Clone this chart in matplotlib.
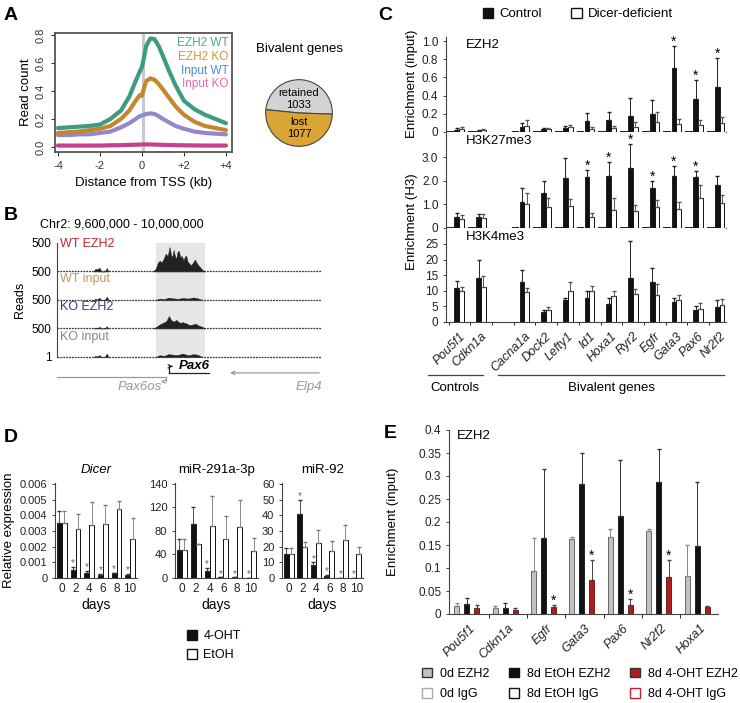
import numpy as np
import matplotlib.pyplot as plt
from matplotlib.patches import Patch
from matplotlib.lines import Line2D

plt.rcParams['font.family'] = ['Liberation Sans', 'DejaVu Sans']

# ---------------- data ----------------
# A: profile around TSS
tss_kb = [-4, -3.5, -3, -2.5, -2, -1.5, -1, -0.6, -0.3, -0.1, 0.0, 0.1, 0.2, 0.4, 0.6, 0.8,
          1.0, 1.3, 1.6, 2.0, 2.5, 3.0, 3.5, 4.0]
ezh2_wt = [0.135, 0.14, 0.145, 0.15, 0.16, 0.2, 0.26, 0.36, 0.47, 0.54, 0.57, 0.64, 0.72, 0.775,
           0.77, 0.72, 0.65, 0.54, 0.44, 0.33, 0.27, 0.23, 0.2, 0.17]
ezh2_ko = [0.10, 0.105, 0.11, 0.12, 0.13, 0.15, 0.2, 0.26, 0.33, 0.37, 0.365, 0.42, 0.47, 0.49,
           0.48, 0.45, 0.41, 0.35, 0.29, 0.23, 0.18, 0.15, 0.135, 0.12]
input_wt = [0.085, 0.085, 0.09, 0.09, 0.10, 0.11, 0.14, 0.17, 0.2, 0.22, 0.225, 0.23, 0.235, 0.24,
            0.235, 0.22, 0.2, 0.175, 0.15, 0.13, 0.11, 0.10, 0.095, 0.09]
input_ko = [0.01, 0.01, 0.01, 0.01, 0.01, 0.012, 0.013, 0.015, 0.016, 0.017, 0.018, 0.018, 0.018,
            0.018, 0.017, 0.016, 0.015, 0.014, 0.013, 0.012, 0.011, 0.01, 0.01, 0.01]
pie_labels = ['retained', 'lost']
pie_counts = [1033, 1077]

# B: genome tracks (positions in Mb, heights as fraction of 500 reads)
wt_ezh2_pos = [9.745, 9.749, 9.752, 9.755, 9.758, 9.761, 9.764, 9.767, 9.770, 9.772, 9.774, 9.776,
               9.778, 9.780, 9.782, 9.784, 9.786, 9.788, 9.791, 9.793, 9.795, 9.797, 9.799, 9.802,
               9.805, 9.808, 9.811, 9.814, 9.817, 9.820, 9.824]
wt_ezh2_h = [0.0, 0.1, 0.3, 0.38, 0.32, 0.45, 0.62, 0.55, 0.86, 0.6, 0.5, 0.76, 0.55, 0.45, 0.7,
             0.72, 0.5, 0.55, 0.4, 0.52, 0.56, 0.35, 0.3, 0.22, 0.3, 0.42, 0.3, 0.2, 0.12, 0.05, 0.0]
ko_ezh2_pos = [9.745, 9.750, 9.755, 9.760, 9.765, 9.769, 9.772, 9.776, 9.780, 9.785, 9.790, 9.795,
               9.800, 9.805, 9.809, 9.814, 9.819, 9.824]
ko_ezh2_h = [0.0, 0.06, 0.14, 0.2, 0.26, 0.44, 0.3, 0.24, 0.3, 0.2, 0.22, 0.18, 0.12, 0.14, 0.17,
             0.1, 0.06, 0.0]
small_pos = [9.655, 9.658, 9.661, 9.664, 9.667, 9.672, 9.675, 9.678]
wt_ezh2_small = [0.0, 0.1, 0.08, 0.14, 0.0, 0.0, 0.12, 0.0]
wt_input_small = [0.0, 0.04, 0.02, 0.08, 0.0, 0.0, 0.12, 0.0]
ko_ezh2_small = [0.0, 0.03, 0.02, 0.06, 0.0, 0.0, 0.08, 0.0]
ko_input_small = [0.0, 0.04, 0.02, 0.07, 0.0, 0.0, 0.12, 0.0]
input_pos = [9.748, 9.755, 9.762, 9.768, 9.775, 9.782, 9.790, 9.798, 9.806, 9.812, 9.820]
wt_input_h = [0.0, 0.05, 0.03, 0.08, 0.06, 0.04, 0.07, 0.05, 0.09, 0.06, 0.0]
ko_input_h = [0.0, 0.06, 0.04, 0.1, 0.08, 0.07, 0.12, 0.06, 0.1, 0.08, 0.0]
shade_mb = [9.749, 9.823]
pax6_mb = [9.769, 9.829]
pax6os_mb = [9.600, 9.765]
elp4_mb = [9.857, 10.0]

# C: ChIP in control vs Dicer-deficient
genes_c = ['Pou5f1', 'Cdkn1a', 'Cacna1a', 'Dock2', 'Lefty1', 'Id1', 'Hoxa1', 'Ryr2', 'Egfr',
           'Gata3', 'Pax6', 'Nr2f2']
slot_c = [0, 1, 3, 4, 5, 6, 7, 8, 9, 10, 11, 12]
ezh2_ctrl = [0.02, 0.015, 0.06, 0.03, 0.045, 0.12, 0.13, 0.18, 0.2, 0.70, 0.36, 0.49]
ezh2_ctrl_err = [0.02, 0.005, 0.04, 0.015, 0.02, 0.09, 0.095, 0.19, 0.15, 0.25, 0.21, 0.32]
ezh2_dcr = [0.035, 0.02, 0.065, 0.03, 0.05, 0.035, 0.04, 0.055, 0.11, 0.09, 0.08, 0.10]
ezh2_dcr_err = [0.025, 0.01, 0.065, 0.015, 0.025, 0.025, 0.03, 0.05, 0.115, 0.05, 0.055, 0.07]
ezh2_sig = [0, 0, 0, 0, 0, 0, 0, 0, 0, 1, 1, 1]
k27_ctrl = [0.45, 0.45, 1.1, 1.5, 2.12, 2.15, 2.22, 2.55, 1.7, 2.22, 2.17, 1.8]
k27_ctrl_err = [0.2, 0.15, 0.6, 0.48, 0.85, 0.3, 0.58, 1.0, 0.3, 0.4, 0.25, 0.4]
k27_dcr = [0.38, 0.42, 1.0, 0.88, 0.92, 0.45, 0.75, 0.72, 0.9, 0.82, 1.28, 1.05]
k27_dcr_err = [0.18, 0.18, 0.5, 0.4, 0.3, 0.2, 0.5, 0.25, 0.3, 0.3, 0.52, 0.35]
k27_sig = [0, 0, 0, 0, 0, 1, 1, 1, 1, 1, 1, 0]
k4_ctrl = [11, 14, 12.7, 3.2, 7.1, 7.8, 5.7, 14, 12.8, 6.4, 3.8, 4.8]
k4_ctrl_err = [2, 5.7, 4, 0.7, 0.5, 2, 2.1, 12, 4.6, 1.3, 1.3, 2.2]
k4_dcr = [10, 11.3, 9.5, 3.7, 9.9, 9.8, 8.2, 9.1, 8.6, 7.1, 4.2, 5.6]
k4_dcr_err = [1.2, 3.5, 1.5, 1.0, 3, 1.8, 1.6, 1.6, 3.5, 1.4, 1.9, 1.9]
igg_ezh2 = [0.006] * 12
igg_k27 = [0.04] * 12

# D: time course
days = ['0', '2', '4', '6', '8', '10']
dicer_oht = [0.0035, 0.0005, 0.00035, 0.0002, 0.0003, 0.0002]
dicer_oht_err = [0.0008, 0.0002, 0.0001, 0.00005, 0.00005, 0.00005]
dicer_etoh = [0.0035, 0.0031, 0.00335, 0.00345, 0.0044, 0.0025]
dicer_etoh_err = [0.0008, 0.001, 0.0015, 0.0012, 0.0005, 0.0013]
dicer_sig = [0, 1, 1, 1, 1, 1]
mir291_oht = [47, 92, 12, 1, 1, 0.5]
mir291_oht_err = [20, 28, 5, 0, 0, 0]
mir291_etoh = [48, 57, 89, 66, 87, 46]
mir291_etoh_err = [19, 0, 50, 40, 45, 22]
mir291_sig = [0, 0, 1, 1, 1, 1]
mir92_oht = [15, 41, 8, 1.3, 0.3, 0.3]
mir92_oht_err = [4, 9, 2, 0.5, 0, 0]
mir92_etoh = [15, 20, 22.5, 17.5, 24.5, 15]
mir92_etoh_err = [4, 3, 8, 6, 9, 4.5]
mir92_sig = [0, 1, 1, 1, 1, 1]

# E: EZH2 ChIP after 8 days
genes_e = ['Pou5f1', 'Cdkn1a', 'Egfr', 'Gata3', 'Pax6', 'Nr2f2', 'Hoxa1']
d0_ezh2 = [0.018, 0.013, 0.093, 0.164, 0.168, 0.181, 0.082]
d0_ezh2_err = [0.005, 0.005, 0.072, 0.004, 0.016, 0.003, 0.068]
etoh_ezh2 = [0.021, 0.013, 0.166, 0.282, 0.212, 0.287, 0.148]
etoh_ezh2_err = [0.014, 0.011, 0.15, 0.069, 0.122, 0.071, 0.138]
oht_ezh2 = [0.014, 0.008, 0.016, 0.074, 0.019, 0.080, 0.016]
oht_ezh2_err = [0.005, 0.006, 0.004, 0.044, 0.013, 0.038, 0.001]
d0_igg = [0.001, 0.001, 0.001, 0.001, 0.001, 0.001, 0.001]
etoh_igg = [0.001, 0.001, 0.001, 0.001, 0.001, 0.001, 0.001]
oht_igg = [0.001, 0.001, 0.001, 0.001, 0.001, 0.001, 0.001]
oht_sig = [0, 0, 1, 1, 1, 1, 0]

# ---------------- figure ----------------
W, H = 740, 703
fig = plt.figure(figsize=(W / 100, H / 100), dpi=100)


def px_ax(x0, y0, x1, y1):
    return fig.add_axes([x0 / W, 1 - y1 / H, (x1 - x0) / W, (y1 - y0) / H])


def ftxt(x, y, s, **kw):
    return fig.text(x / W, 1 - y / H, s, **kw)


def fline(x0, x1, y, **kw):
    fig.add_artist(Line2D([x0 / W, x1 / W], [1 - y / H, 1 - y / H], **kw))


def clean(ax):
    ax.spines['top'].set_visible(False)
    ax.spines['right'].set_visible(False)
    for s in ('left', 'bottom'):
        ax.spines[s].set_linewidth(0.8)
        ax.spines[s].set_color('#444')
    ax.tick_params(labelsize=8, length=2, width=0.6, colors='#222')


for lab, x, y in [('A', 4, 16), ('B', 4, 216), ('C', 378, 16), ('D', 4, 438), ('E', 384, 434)]:
    ftxt(x, y, lab, fontsize=14, fontweight='bold', va='center')

# ---- A ----
axA = px_ax(55, 33, 232, 152)
axA.axvline(0.05, color='#c8c8d4', lw=2.2, zorder=0)
for vals, col in [(input_ko, '#c8408b'), (input_wt, '#9189cb'), (ezh2_ko, '#c5862f'),
                  (ezh2_wt, '#3d9c7f')]:
    axA.plot(tss_kb, vals, color=col, lw=3, solid_capstyle='round')
axA.set_xlim(-4.14, 4.29)
axA.set_ylim(-0.036, 0.814)
axA.set_xticks([-4, -2, 0, 2, 4])
axA.set_xticklabels(['-4', '-2', '0', '+2', '+4'])
axA.set_yticks([0, 0.2, 0.4, 0.6, 0.8])
axA.set_yticklabels(['0.0', '0.2', '0.4', '0.6', '0.8'], rotation=90, va='center')
for s in axA.spines.values():
    s.set_color('#555')
    s.set_linewidth(1.3)
axA.tick_params(labelsize=8, length=3, colors='#333')
axA.set_ylabel('Read count', fontsize=9.5, labelpad=3)
axA.set_xlabel('Distance from TSS (kb)', fontsize=9.5, labelpad=4)
for txt, col, yv in [('EZH2 WT', '#4aa88a', 0.743), ('EZH2 KO', '#d6913a', 0.643),
                     ('Input WT', '#3f8fe0', 0.543), ('Input KO', '#e069a8', 0.45)]:
    axA.text(4.13, yv, txt, color=col, fontsize=8.5, ha='right', va='center')

ftxt(299, 49, 'Bivalent genes', fontsize=9.5, ha='center', va='center')
axP = px_ax(265, 79, 333, 147)
axP.pie(pie_counts, colors=['#d3d3d3', '#dba535'], startangle=-2, radius=1,
        wedgeprops=dict(edgecolor='#444', linewidth=0.8))
axP.set_xlim(-1.02, 1.02)
axP.set_ylim(-1.02, 1.02)
axP.text(0, 0.42, f'{pie_labels[0]}\n{pie_counts[0]}', ha='center', va='center', fontsize=8,
         linespacing=1.25)
axP.text(0, -0.45, f'{pie_labels[1]}\n{pie_counts[1]}', ha='center', va='center', fontsize=8,
         linespacing=1.25)

# ---- B ----
axB = px_ax(57, 243, 322, 394)
axB.set_xlim(9.6, 10.0)
axB.set_ylim(-1.3, 4.0)
axB.fill_between(shade_mb, 0, 4, color='#e6e6e6', lw=0, zorder=0)
tracks = [(3, [(wt_ezh2_pos, wt_ezh2_h), (small_pos, wt_ezh2_small)]),
          (2, [(input_pos, wt_input_h), (small_pos, wt_input_small)]),
          (1, [(ko_ezh2_pos, ko_ezh2_h), (small_pos, ko_ezh2_small)]),
          (0, [(input_pos, ko_input_h), (small_pos, ko_input_small)])]
for base, sigs in tracks:
    axB.plot([9.6, 10.0], [base, base], color='#333', lw=0.9, ls=(0, (1.5, 0.8)))
    for p, h in sigs:
        axB.fill_between(p, base, base + np.array(h), color='#222', lw=0.3)
for txt, col, yv in [('WT EZH2', '#c1272d', 3.95), ('WT input', '#c09a5a', 2.75),
                     ('KO EZH2', '#3a3590', 1.75), ('KO input', '#888888', 0.7)]:
    axB.text(9.605, yv, txt, color=col, fontsize=9, va='center')
axB.set_yticks([0, 1, 2, 3, 4])
axB.set_yticklabels(['1', '500', '500', '500', '500'])
axB.set_xticks([])
for s in ('top', 'right', 'bottom'):
    axB.spines[s].set_visible(False)
axB.spines['left'].set_bounds(0, 4)
axB.spines['left'].set_color('#444')
axB.tick_params(axis='y', labelsize=8.5, length=0, pad=4)
ftxt(40, 225, 'Chr2: 9,600,000 - 10,000,000', fontsize=9, va='center')
ftxt(20, 300, 'Reads', fontsize=9, rotation=90, ha='center', va='center')
# gene models
axB.plot([pax6_mb[0], pax6_mb[1]], [-0.56, -0.56], color='#222', lw=0.9, clip_on=False)
axB.plot([pax6_mb[0], pax6_mb[0]], [-0.56, -0.33], color='#222', lw=0.9, clip_on=False)
axB.annotate('', xy=(pax6_mb[0] + 0.010, -0.33), xytext=(pax6_mb[0], -0.33),
             arrowprops=dict(arrowstyle='->', color='#222', lw=0.9, mutation_scale=6),
             annotation_clip=False)
axB.text(pax6_mb[0] + 0.015, -0.3, 'Pax6', fontsize=9.5, fontstyle='italic', fontweight='bold',
         va='center')
axB.plot([pax6os_mb[0], pax6os_mb[1]], [-0.7, -0.7], color='#999', lw=0.9, clip_on=False)
axB.plot([pax6os_mb[1], pax6os_mb[1]], [-0.7, -0.86], color='#999', lw=0.9, clip_on=False)
axB.annotate('', xy=(pax6os_mb[1] - 0.008, -0.86), xytext=(pax6os_mb[1], -0.86),
             arrowprops=dict(arrowstyle='->', color='#999', lw=0.9, mutation_scale=6),
             annotation_clip=False)
axB.annotate('', xy=(elp4_mb[0], -0.56), xytext=(elp4_mb[1], -0.56),
             arrowprops=dict(arrowstyle='->', color='#999', lw=0.9, mutation_scale=6),
             annotation_clip=False)
axB.text(9.725, -1.05, 'Pax6os', fontsize=9.5, fontstyle='italic', color='#999', ha='center',
         va='center')
axB.text(10.0, -1.05, 'Elp4', fontsize=9.5, fontstyle='italic', color='#999', ha='right',
         va='center')

# ---- C ----
pos_c = np.array(slot_c, dtype=float)
bw = 0.22
c_rows = [(36.5, 132, 1.05, 'EZH2', ezh2_ctrl, ezh2_ctrl_err, ezh2_dcr, ezh2_dcr_err, ezh2_sig,
           igg_ezh2, [0, 0.2, 0.4, 0.6, 0.8, 1.0], ['0', '0.2', '0.4', '0.6', '0.8', '1.0']),
          (132, 228, 4.06, 'H3K27me3', k27_ctrl, k27_ctrl_err, k27_dcr, k27_dcr_err, k27_sig,
           igg_k27, [0, 1, 2, 3], ['0', '1.0', '2.0', '3.0']),
          (228, 322, 30.1, 'H3K4me3', k4_ctrl, k4_ctrl_err, k4_dcr, k4_dcr_err, None,
           None, [0, 5, 10, 15, 20, 25], ['0', '5', '10', '15', '20', '25'])]
c_axes = []
for y0, y1, ymax, name, ctl, ctle, dcr, dcre, sig, igg, yt, ytl in c_rows:
    ax = px_ax(446, y0, 726, y1)
    clean(ax)
    if igg is not None:
        ax.bar(pos_c - 0.3, igg, width=0.36, color='#222', lw=0)
    ax.bar(pos_c, ctl, width=bw, color='#111', edgecolor='#111', lw=0.6,
           yerr=[np.zeros(12), ctle], error_kw=dict(elinewidth=0.7, capsize=1.2, ecolor='#222'))
    ax.bar(pos_c + bw, dcr, width=bw, color='white', edgecolor='#111', lw=0.7,
           yerr=[np.zeros(12), dcre], error_kw=dict(elinewidth=0.7, capsize=1.2, ecolor='#555'))
    if sig is not None:
        for p, v, e, s in zip(pos_c, ctl, ctle, sig):
            if s:
                ax.annotate('*', (p, v + e), xytext=(0, -2), textcoords='offset points',
                            ha='center', va='bottom', fontsize=10, annotation_clip=False)
    ax.set_xlim(-0.5, 12.4)
    ax.set_ylim(0, ymax)
    ax.set_yticks(yt)
    ax.set_yticklabels(ytl)
    ax.tick_params(labelsize=8.5)
    ax.text(0.07, 0.97, name, transform=ax.transAxes, fontsize=9.5, va='top')
    c_axes.append(ax)
for ax in c_axes[:2]:
    ax.set_xticks([])
axc = c_axes[2]
axc.set_xticks(pos_c + 0.1)
axc.set_xticklabels(genes_c, rotation=45, ha='right', va='top', rotation_mode='anchor',
                    fontstyle='italic', fontsize=9)
axc.tick_params(axis='x', length=0, pad=6)
axc.set_xticks(np.array([-0.5, 0.5, 1.5, 2.5, 3.5, 4.5, 5.5, 6.5, 7.5, 8.5, 9.5, 10.5, 11.5]) + 0.12,
               minor=True)
axc.tick_params(axis='x', which='minor', length=2, width=0.6)
ftxt(412, 84, 'Enrichment (input)', fontsize=9.5, rotation=90, ha='center', va='center')
ftxt(412, 222, 'Enrichment (H3)', fontsize=9.5, rotation=90, ha='center', va='center')
fline(428, 483, 375, color='#444', lw=0.9)
fline(498, 724, 375, color='#444', lw=0.9)
ftxt(455, 388, 'Controls', fontsize=9.5, ha='center', va='center')
ftxt(611, 388, 'Bivalent genes', fontsize=9.5, ha='center', va='center')
fig.legend(handles=[Patch(facecolor='#111', edgecolor='#111'),
                    Patch(facecolor='white', edgecolor='#111')],
           labels=['Control', 'Dicer-deficient'], loc='center',
           bbox_to_anchor=(578 / W, 1 - 14 / H), ncol=2, frameon=False, fontsize=9.5,
           handlelength=0.8, handleheight=0.8, handletextpad=0.5, columnspacing=2.2)

# ---- D ----
d_sets = [(55, 137, 'Dicer', 'italic', dicer_oht, dicer_oht_err, dicer_etoh, dicer_etoh_err,
           dicer_sig, 0.006, [0, 0.001, 0.002, 0.003, 0.004, 0.005, 0.006],
           ['0', '0.001', '0.002', '0.003', '0.004', '0.005', '0.006']),
          (175, 258, 'miR-291a-3p', 'normal', mir291_oht, mir291_oht_err, mir291_etoh,
           mir291_etoh_err, mir291_sig, 160, [0, 40, 80, 120, 160],
           ['0', '40', '80', '120', '140']),
          (282, 363, 'miR-92', 'normal', mir92_oht, mir92_oht_err, mir92_etoh, mir92_etoh_err,
           mir92_sig, 60, [0, 10, 20, 30, 40, 50, 60],
           ['0', '10', '20', '30', '40', '50', '60'])]
xd = np.arange(len(days))
dw = 0.36
for x0, x1, title, style, oht, ohte, eto, etoe, sig, ymax, yt, ytl in d_sets:
    ax = px_ax(x0, 483, x1, 578)
    clean(ax)
    ax.bar(xd - dw / 2, oht, width=dw, color='#111', edgecolor='#111', lw=0.6,
           yerr=[np.zeros(6), ohte], error_kw=dict(elinewidth=0.6, capsize=1.2, ecolor='#333'))
    ax.bar(xd + dw / 2, eto, width=dw, color='white', edgecolor='#111', lw=0.7,
           yerr=[np.zeros(6), etoe], error_kw=dict(elinewidth=0.6, capsize=1.2, ecolor='#777'))
    for p, v, e, s in zip(xd, oht, ohte, sig):
        if s:
            ax.annotate('*', (p - dw / 2, v + e), xytext=(0, -1), textcoords='offset points',
                        ha='center', va='bottom', fontsize=7, color='#666')
    ax.set_xlim(-0.5, 5.5)
    ax.set_ylim(0, ymax * 1.01)
    ax.set_yticks(yt)
    ax.set_yticklabels(ytl)
    ax.set_xticks(xd)
    ax.set_xticklabels(days, fontsize=8.5)
    ax.tick_params(axis='x', length=0)
    ax.set_xlabel('days', fontsize=10, labelpad=2)
    ax.set_title(title, fontsize=9.5, fontstyle=style, pad=7)
ftxt(9, 530, 'Relative expression', fontsize=9.5, rotation=90, ha='center', va='center')
fig.legend(handles=[Patch(facecolor='#111', edgecolor='#111'),
                    Patch(facecolor='white', edgecolor='#111')],
           labels=['4-OHT', 'EtOH'], loc='upper left', bbox_to_anchor=(176 / W, 1 - 619 / H),
           ncol=1, frameon=False, fontsize=9, handlelength=0.8, handleheight=0.8,
           handletextpad=0.5, labelspacing=0.55)

# ---- E ----
axE = px_ax(449, 430, 718, 614)
clean(axE)
xe = np.arange(len(genes_e))
ew = 0.13
e_bars = [(-2.5, d0_ezh2, d0_ezh2_err, '#c2c2c2', '#555', '#888'),
          (-1.5, d0_igg, None, 'white', '#aaa', None),
          (-0.5, etoh_ezh2, etoh_ezh2_err, '#111', '#111', '#333'),
          (0.5, etoh_igg, None, 'white', '#111', None),
          (1.5, oht_ezh2, oht_ezh2_err, '#b01c1c', '#5a0d0d', '#444'),
          (2.5, oht_igg, None, 'white', '#c0272d', None)]
for off, vals, err, fc, ec, ecol in e_bars:
    kw = {}
    if err is not None:
        kw = dict(yerr=[np.zeros(7), err],
                  error_kw=dict(elinewidth=0.7, capsize=1.5, ecolor=ecol))
    axE.bar(xe + off * ew, vals, width=ew, color=fc, edgecolor=ec, lw=0.6, **kw)
for p, v, e, s in zip(xe, oht_ezh2, oht_ezh2_err, oht_sig):
    if s:
        axE.annotate('*', (p + 1.5 * ew, v + e), xytext=(0, -2), textcoords='offset points',
                     ha='center', va='bottom', fontsize=10)
axE.set_xlim(-0.53, 6.48)
axE.set_ylim(0, 0.4)
axE.set_yticks([0, 0.05, 0.1, 0.15, 0.2, 0.25, 0.3, 0.35, 0.4])
axE.set_yticklabels(['0', '0.05', '0.1', '0.15', '0.2', '0.25', '0.3', '0.35', '0.4'])
axE.set_xticks(xe)
axE.set_xticklabels(genes_e, rotation=45, ha='right', va='top', rotation_mode='anchor',
                    fontstyle='italic', fontsize=9)
axE.tick_params(axis='x', length=0, pad=6)
axE.set_xticks(xe[:-1] + 0.5, minor=True)
axE.tick_params(axis='x', which='minor', length=3, width=0.6)
axE.tick_params(axis='y', labelsize=8.5)
axE.text(0.03, 1.0, 'EZH2', transform=axE.transAxes, fontsize=9.5, va='top')
ftxt(393, 522, 'Enrichment (input)', fontsize=9.5, rotation=90, ha='center', va='center')
e_handles = [Patch(facecolor='#c2c2c2', edgecolor='#333'), Patch(facecolor='white', edgecolor='#aaa'),
             Patch(facecolor='#111', edgecolor='#111'), Patch(facecolor='white', edgecolor='#111'),
             Patch(facecolor='#b01c1c', edgecolor='#333'), Patch(facecolor='white', edgecolor='#c0272d')]
e_labels = ['0d EZH2', '0d IgG', '8d EtOH EZH2', '8d EtOH IgG', '8d 4-OHT EZH2', '8d 4-OHT IgG']
fig.legend(handles=e_handles, labels=e_labels, loc='center', bbox_to_anchor=(580 / W, 1 - 684 / H),
           ncol=3, frameon=False, fontsize=9, handlelength=0.8, handleheight=0.8,
           handletextpad=0.6, columnspacing=1.6, labelspacing=0.7)

fig.savefig('out.png', dpi=100)
